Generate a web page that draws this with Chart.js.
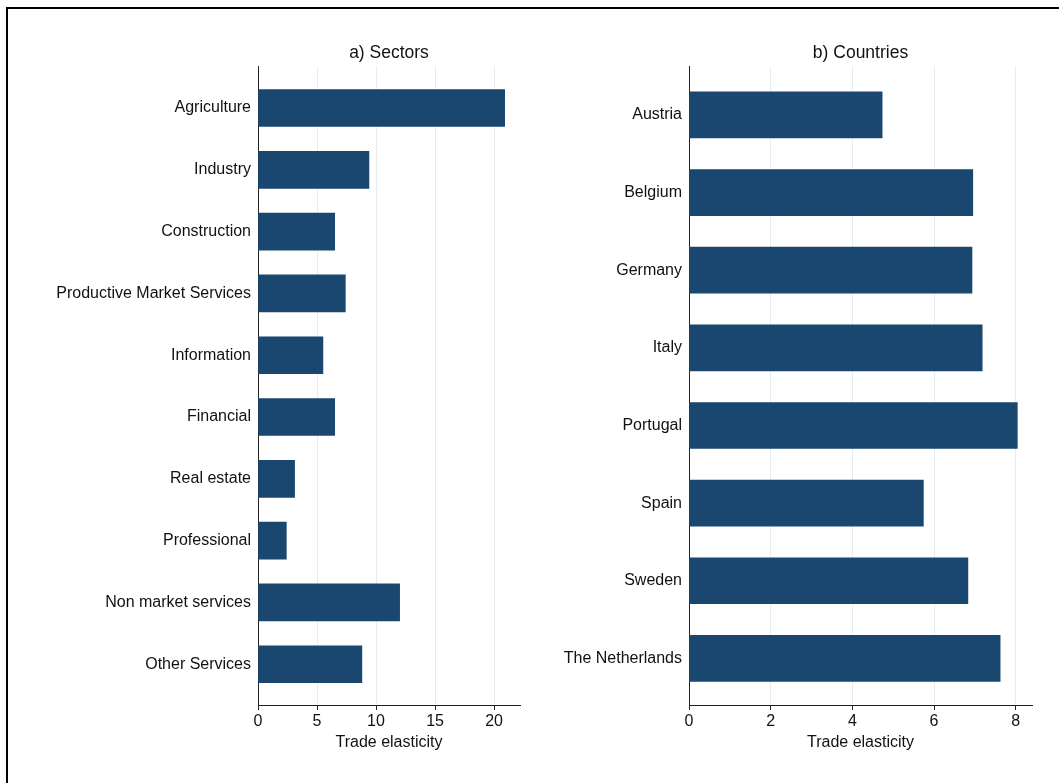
<!DOCTYPE html>
<html>
<head>
<meta charset="utf-8">
<script src="https://cdn.jsdelivr.net/npm/chart.js@4/dist/chart.umd.min.js"></script>
<style>
    html, body { margin: 0; padding: 0; background: #fff; }
    body { width: 1059px; height: 783px; position: relative; overflow: hidden; }
    .frame { position: absolute; left: 6px; top: 7px; width: 1100px; height: 900px; border: 2px solid #000; box-sizing: border-box; }
    .panel { position: absolute; top: 0; }
    #sectors-wrap { left: 10px; width: 530px; height: 783px; }
    #countries-wrap { left: 545px; width: 514px; height: 783px; }
</style>
</head>
<body>
<div class="frame"></div>
<div class="panel" id="sectors-wrap"><canvas id="sectors-chart"></canvas></div>
<div class="panel" id="countries-wrap"><canvas id="countries-chart"></canvas></div>
<script>
    'use strict';

    var sectorLabels = ['Agriculture', 'Industry', 'Construction', 'Productive Market Services', 'Information',
        'Financial', 'Real estate', 'Professional', 'Non market services', 'Other Services'];
    var sectorValues = [20.9, 9.4, 6.5, 7.4, 5.5, 6.5, 3.1, 2.4, 12.0, 8.8];
    var sectorTicks = [0, 5, 10, 15, 20];

    var countryLabels = ['Austria', 'Belgium', 'Germany', 'Italy', 'Portugal', 'Spain', 'Sweden', 'The Netherlands'];
    var countryValues = [4.73, 6.95, 6.93, 7.18, 8.04, 5.74, 6.83, 7.62];
    var countryTicks = [0, 2, 4, 6, 8];

    var barColor = '#1a476f';
    var axisColor = '#222';
    var gridColor = '#e6edf0';
    var fontFamily = '"Liberation Sans", Arial, Helvetica, sans-serif';

    Chart.defaults.font.family = fontFamily;
    Chart.defaults.color = '#111';

    // panel title centred over the plot area rather than the whole canvas
    var panelTitle = {
        id: 'panelTitle',
        afterDraw: function (chart, args, o) {
            var ctx = chart.ctx, area = chart.chartArea;
            ctx.save();
            ctx.font = '17.5px ' + fontFamily;
            ctx.fillStyle = '#111';
            ctx.textAlign = 'center';
            ctx.textBaseline = 'middle';
            ctx.fillText(o.text, (area.left + area.right) / 2, area.top - 13);
            ctx.restore();
        }
    };

    function makePanel(canvasId, title, labels, values, ticks, opts) {
        var points = values.map(function (v, i) { return { x: v, y: i }; });

        return new Chart(document.getElementById(canvasId), {
            type: 'bar',
            data: {
                datasets: [{
                    data: points,
                    backgroundColor: barColor,
                    borderWidth: 0,
                    barThickness: opts.barThickness
                }]
            },
            plugins: [panelTitle],
            options: {
                indexAxis: 'y',
                responsive: true,
                maintainAspectRatio: false,
                animation: false,
                layout: { padding: { top: 66, right: opts.padRight, bottom: 31, left: 0 } },
                plugins: {
                    legend: { display: false },
                    tooltip: { enabled: false },
                    panelTitle: { text: title }
                },
                scales: {
                    x: {
                        type: 'linear',
                        min: 0,
                        max: opts.xMax,
                        afterBuildTicks: function (scale) {
                            scale.ticks = ticks.map(function (t) { return { value: t }; });
                        },
                        afterFit: function (scale) { scale.height = 47; },
                        ticks: { font: { size: 16 }, color: '#111', padding: 2, maxRotation: 0 },
                        grid: { color: gridColor, tickColor: axisColor, tickLength: 5, lineWidth: 1 },
                        border: { color: axisColor, width: 1 },
                        title: { display: true, text: 'Trade elasticity', font: { size: 16 }, color: '#111', padding: { top: 0, bottom: 0 } }
                    },
                    y: {
                        type: 'linear',
                        reverse: true,
                        offset: false,
                        min: opts.yMin,
                        max: opts.yMax,
                        afterBuildTicks: function (scale) {
                            scale.ticks = labels.map(function (_, i) { return { value: i }; });
                        },
                        afterFit: function (scale) { scale.width = opts.yWidth; },
                        ticks: {
                            font: { size: 16 },
                            color: '#111',
                            padding: 7,
                            callback: function (v) { return labels[v]; }
                        },
                        grid: { display: false, drawTicks: false },
                        border: { color: axisColor, width: 1 }
                    }
                }
            }
        });
    }

    makePanel('sectors-chart', 'a) Sectors', sectorLabels, sectorValues, sectorTicks, {
        xMax: 22.2, yMin: -0.68, yMax: 9.66, yWidth: 248, padRight: 20, barThickness: 37
    });

    makePanel('countries-chart', 'b) Countries', countryLabels, countryValues, countryTicks, {
        xMax: 8.4, yMin: -0.63, yMax: 7.6, yWidth: 144, padRight: 27, barThickness: 46
    });
</script>
</body>
</html>
